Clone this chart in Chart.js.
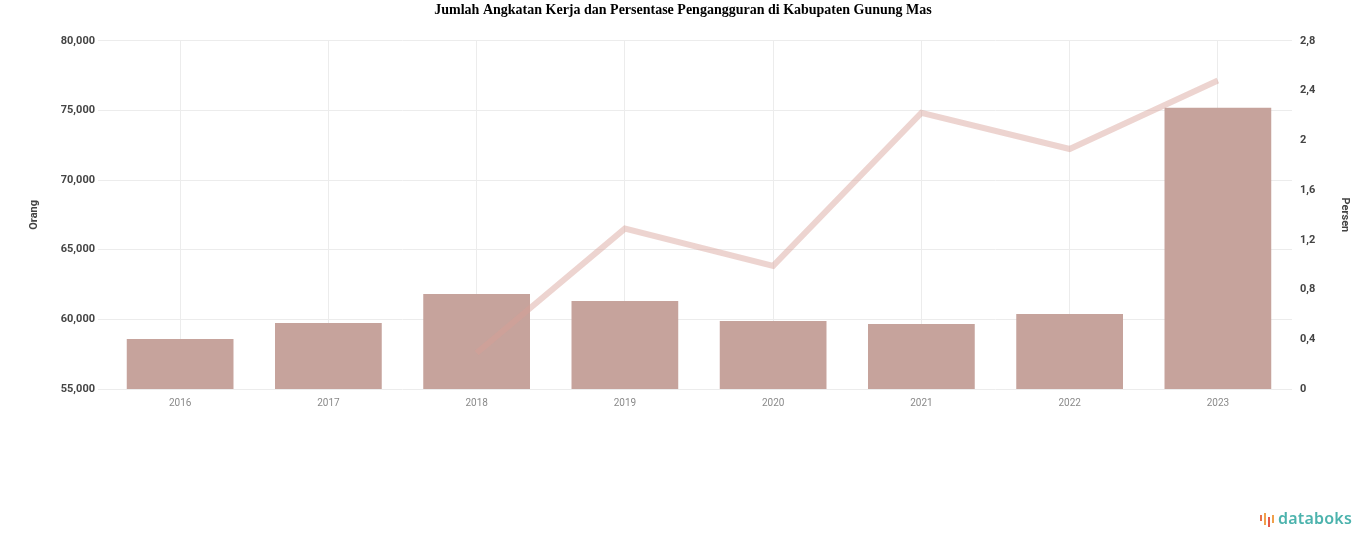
<!DOCTYPE html>
<html>
<head>
<meta charset="utf-8">
<script src="https://cdn.jsdelivr.net/npm/chart.js@4"></script>
<style>
  html, body { margin: 0; padding: 0; background: #fff; }
  #wrap { position: relative; width: 1366px; height: 547px; }
  #logo {
    position: absolute; right: 14px; bottom: 18px;
    font-family: "Noto Sans", sans-serif; font-size: 16px; font-weight: 600;
    color: #4cb3ad; letter-spacing: 0.2px;
  }
  #logo .ic { display: inline-block; width: 16px; height: 14px; position: relative; vertical-align: -1px; margin-right: 2px; }
  #logo .ic i { position: absolute; bottom: 0; width: 2px; background: #e8724a; }
</style>
</head>
<body>
<div id="wrap">
  <canvas id="chart" width="1366" height="547"></canvas>
  <div id="logo"><span class="ic"><i style="left:0;height:6px;bottom:4px"></i><i style="left:4px;height:12px;background:#f0a04b"></i><i style="left:8px;height:10px;bottom:-2px;background:#e55a4a"></i><i style="left:12px;height:8px;bottom:2px;background:#f0a04b"></i></span>databoks</div>
</div>
<script>
// data
const years = ["2016", "2017", "2018", "2019", "2020", "2021", "2022", "2023"];
const angkatanKerja = [58590, 59740, 61820, 61320, 59890, 59670, 60390, 75190];
const pengangguran = [null, null, 0.29, 1.29, 0.99, 2.22, 1.93, 2.48];
const leftTicks = [55000, 60000, 65000, 70000, 75000, 80000];
const rightTicks = [0, 0.4, 0.8, 1.2, 1.6, 2, 2.4, 2.8];

const ctx = document.getElementById("chart").getContext("2d");
new Chart(ctx, {
  type: "bar",
  data: {
    labels: years,
    datasets: [
      {
        type: "line",
        label: "Persentase Pengangguran",
        data: pengangguran,
        yAxisID: "y1",
        borderColor: "rgba(214, 160, 150, 0.45)",
        borderWidth: 6,
        pointRadius: 0,
        fill: false,
        tension: 0,
        order: 0,
      },
      {
        label: "Jumlah Angkatan Kerja",
        data: angkatanKerja,
        yAxisID: "y",
        backgroundColor: "#c6a39c",
        categoryPercentage: 0.72,
        barPercentage: 1,
        order: 1,
      },
    ],
  },
  options: {
    responsive: false,
    animation: false,
    layout: { padding: { top: 0, bottom: 130, left: 0, right: 0 } },
    plugins: {
      legend: { display: false },
      tooltip: { enabled: false },
      title: {
        display: true,
        text: "Jumlah Angkatan Kerja dan Persentase Pengangguran di Kabupaten Gunung Mas",
        color: "#000",
        font: { family: "Liberation Serif", size: 14, weight: "bold" },
        padding: { top: 2, bottom: 22 },
      },
    },
    scales: {
      x: {
        grid: { offset: false, color: "#ececec", drawTicks: false },
        border: { display: false },
        ticks: { color: "#8a8a8a", font: { family: "Roboto", size: 10 }, padding: 8 },
      },
      y: {
        position: "left",
        min: 55000,
        max: 80000,
        afterBuildTicks: (s) => { s.ticks = leftTicks.map((v) => ({ value: v })); },
        afterFit: (s) => { s.width = 106; },
        grid: { color: "#ececec", tickLength: 8 },
        border: { display: false },
        ticks: {
          color: "#444",
          font: { family: "Roboto", size: 11, weight: "bold" },
          callback: (v) => v.toLocaleString("en-US"),
        },
        title: {
          display: true, text: "Orang", color: "#444",
          font: { family: "Roboto", size: 11, weight: "bold" },
          padding: { top: 28, bottom: 0 },
        },
      },
      y1: {
        position: "right",
        min: 0,
        max: 2.8,
        afterBuildTicks: (s) => { s.ticks = rightTicks.map((v) => ({ value: v })); },
        afterFit: (s) => { s.width = 74; },
        grid: { drawOnChartArea: false, drawTicks: false },
        border: { display: false },
        ticks: {
          color: "#444",
          padding: 8,
          font: { family: "Roboto", size: 11, weight: "bold" },
          callback: (v) => String(Math.round(v * 10) / 10).replace(".", ","),
        },
        title: {
          display: true, text: "Persen", color: "#444",
          font: { family: "Roboto", size: 11, weight: "bold" },
          padding: { top: 15, bottom: 0 },
        },
      },
    },
  },
});
</script>
</body>
</html>
